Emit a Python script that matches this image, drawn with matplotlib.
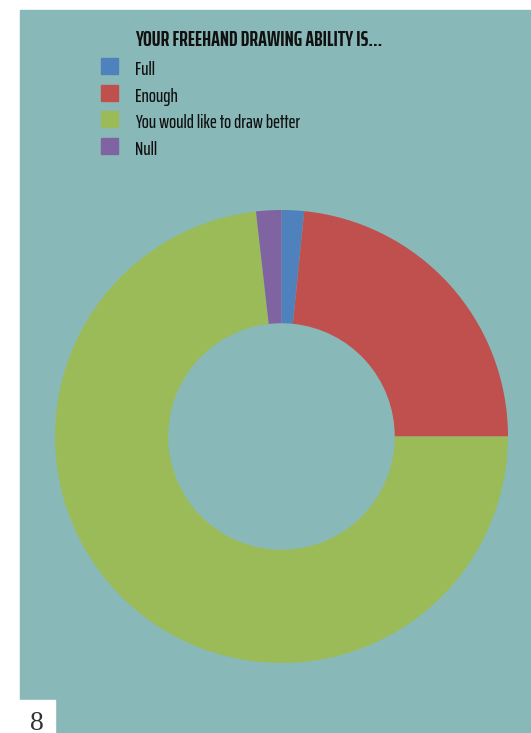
import matplotlib
matplotlib.use("Agg")
import matplotlib.pyplot as plt
from matplotlib.patches import Rectangle

labels = ["Full", "Enough", "You would like to draw better", "Null"]
shares = [1.6, 23.4, 73.2, 1.8]
colors = ["#4f81bd", "#c0504d", "#9bbb59", "#8064a2"]
title = "YOUR FREEHAND DRAWING ABILITY IS..."
page_no = "8"

W, H = 531, 733
bg = "#88b9b8"
narrow = ["Saira ExtraCondensed", "DejaVu Sans"]

fig = plt.figure(figsize=(W / 100, H / 100), dpi=100, facecolor="white")

# teal panel and the white page-number box
fig.patches.append(Rectangle((20 / W, 0), 511 / W, 723 / H,
                             transform=fig.transFigure, color=bg, zorder=-2))
fig.patches.append(Rectangle((0, 0), 55 / W, 33 / H,
                             transform=fig.transFigure, color="white", zorder=-1))
fig.text(37 / W, 3 / H, page_no, ha="center", va="baseline", fontsize=20,
         family="Liberation Serif", color="#333333")

# donut: centre (281.5, 436.5) px, radius 226.5 px
r = 226.5
ax = fig.add_axes([(281.5 - r) / W, (H - 436.5 - r) / H, 2 * r / W, 2 * r / H])
ax.pie(shares, colors=colors, startangle=90, counterclock=False, radius=1,
       wedgeprops=dict(width=0.5, linewidth=0))
ax.set_xlim(-1, 1)
ax.set_ylim(-1, 1)
ax.set_aspect("equal")
ax.axis("off")

# legend block (title + colour keys), placed in pixels from the top-left
fig.text(135 / W, 1 - 45.7 / H, title, ha="left", va="baseline", fontsize=15,
         fontweight="bold", family=narrow, color="#111111")
row = 26.7
for i, (lab, c) in enumerate(zip(labels, colors)):
    top = 58 + i * row
    fig.patches.append(Rectangle((100.5 / W, 1 - (top + 16) / H), 17 / W, 16 / H,
                                 transform=fig.transFigure, color=c))
    fig.text(135 / W, 1 - (75 + i * row) / H, lab, ha="left", va="baseline",
             fontsize=13.5, fontweight="medium", family=narrow, color="#111111")

fig.savefig("out.png", dpi=100, facecolor="white")
